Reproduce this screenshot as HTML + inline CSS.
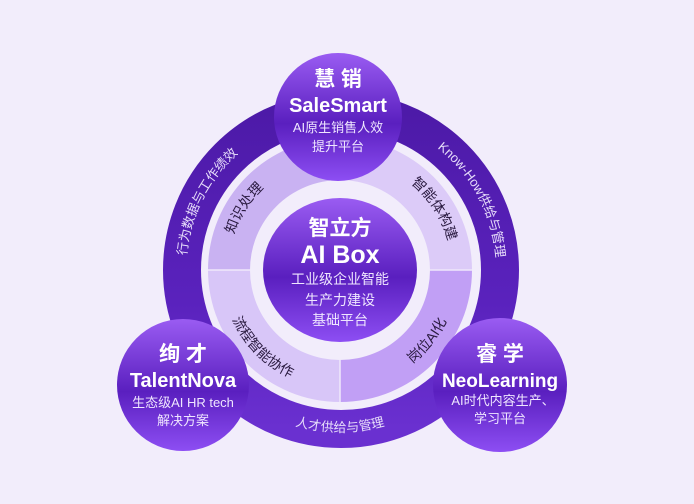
<!DOCTYPE html>
<html><head><meta charset="utf-8"><style>
html,body{margin:0;padding:0;background:#f2edfb;}
svg{display:block;}
text{font-family:"Liberation Sans","Noto Sans CJK SC",sans-serif;}
</style></head><body>
<svg width="694" height="504" viewBox="0 0 694 504" xmlns="http://www.w3.org/2000/svg">
<defs>
<linearGradient id="cg" x1="0" y1="0" x2="0" y2="1">
<stop offset="0" stop-color="#9a5cf2"/><stop offset="0.55" stop-color="#5a1fbf"/><stop offset="1" stop-color="#8d4ef3"/>
</linearGradient>
<linearGradient id="rg" x1="0" y1="0" x2="0" y2="1">
<stop offset="0" stop-color="#4d1aa8"/><stop offset="0.6" stop-color="#5a22bd"/><stop offset="1" stop-color="#6a30d0"/>
</linearGradient>
<path id="p1" d="M 190 305 A 155 155 0 0 1 280 127"/>
<path id="p2" d="M 399 126 A 155 155 0 0 1 493 302"/>
<path id="p3" d="M 178 270 A 162 162 0 0 0 502 270"/>
<path id="q1" d="M 229 284 A 112 112 0 0 1 307 163"/>
<path id="q2" d="M 373 163 A 112 112 0 0 1 451 284"/>
<path id="q3" d="M 222 280 A 118 118 0 0 0 330 388"/>
<path id="q4" d="M 363 386 A 118 118 0 0 0 458 268"/>
</defs>
<rect width="694" height="504" fill="#f2edfb"/>
<circle cx="341" cy="270" r="159" fill="none" stroke="url(#rg)" stroke-width="38"/>
<path d="M 208 270 A 132 132 0 0 1 340 138 L 340 180 A 90 90 0 0 0 250 270 Z" fill="#c9b2f2"/>
<path d="M 340 138 A 132 132 0 0 1 472 270 L 430 270 A 90 90 0 0 0 340 180 Z" fill="#dccbf8"/>
<path d="M 472 270 A 132 132 0 0 1 340 402 L 340 360 A 90 90 0 0 0 430 270 Z" fill="#c19ff5"/>
<path d="M 340 402 A 132 132 0 0 1 208 270 L 250 270 A 90 90 0 0 0 340 360 Z" fill="#d8c6f8"/>
<line x1="208" y1="270" x2="250" y2="270" stroke="#efe8fb" stroke-width="1.5"/>
<line x1="430" y1="270" x2="472" y2="270" stroke="#efe8fb" stroke-width="1.5"/>
<line x1="340" y1="360" x2="340" y2="402" stroke="#efe8fb" stroke-width="1.5"/>
<ellipse cx="340" cy="270" rx="77" ry="72" fill="url(#cg)"/>
<circle cx="338" cy="117" r="64" fill="url(#cg)"/>
<circle cx="183" cy="385" r="66" fill="url(#cg)"/>
<circle cx="500" cy="385" r="67" fill="url(#cg)"/>
<g font-size="13" fill="#e6dcfa" text-anchor="middle">
<text><textPath href="#p1" startOffset="50%">行为数据与工作绩效</textPath></text>
<text><textPath href="#p2" startOffset="50%">Know-How供给与管理</textPath></text>
<text><textPath href="#p3" startOffset="50%">人才供给与管理</textPath></text>
</g>
<g font-size="14" fill="#2a1a40" text-anchor="middle">
<text><textPath href="#q1" startOffset="50%">知识处理</textPath></text>
<text><textPath href="#q2" startOffset="50%">智能体构建</textPath></text>
<text><textPath href="#q3" startOffset="50%">流程智能协作</textPath></text>
<text><textPath href="#q4" startOffset="50%">岗位AI化</textPath></text>
</g>
<g fill="#fff" text-anchor="middle">
<text x="340" y="235" font-size="21" font-weight="bold">智立方</text>
<text x="340" y="263" font-size="25" font-weight="bold">AI Box</text>
<text x="340" y="284" font-size="14" fill="#efe6ff">工业级企业智能</text>
<text x="340" y="305" font-size="14" fill="#efe6ff">生产力建设</text>
<text x="340" y="325" font-size="14" fill="#efe6ff">基础平台</text>

<text x="338" y="86" font-size="21" font-weight="bold">慧 销</text>
<text x="338" y="112" font-size="20" font-weight="bold">SaleSmart</text>
<text x="338" y="132" font-size="13" fill="#efe6ff">AI原生销售人效</text>
<text x="338" y="151" font-size="13" fill="#efe6ff">提升平台</text>

<text x="183" y="361" font-size="21" font-weight="bold">绚 才</text>
<text x="183" y="387" font-size="20" font-weight="bold">TalentNova</text>
<text x="183" y="407" font-size="13" fill="#efe6ff">生态级AI HR tech</text>
<text x="183" y="425" font-size="13" fill="#efe6ff">解决方案</text>

<text x="500" y="361" font-size="21" font-weight="bold">睿 学</text>
<text x="500" y="387" font-size="19" font-weight="bold">NeoLearning</text>
<text x="503" y="405" font-size="13" fill="#efe6ff">AI时代内容生产、</text>
<text x="500" y="423" font-size="13" fill="#efe6ff">学习平台</text>
</g>
</svg>
</body></html>
